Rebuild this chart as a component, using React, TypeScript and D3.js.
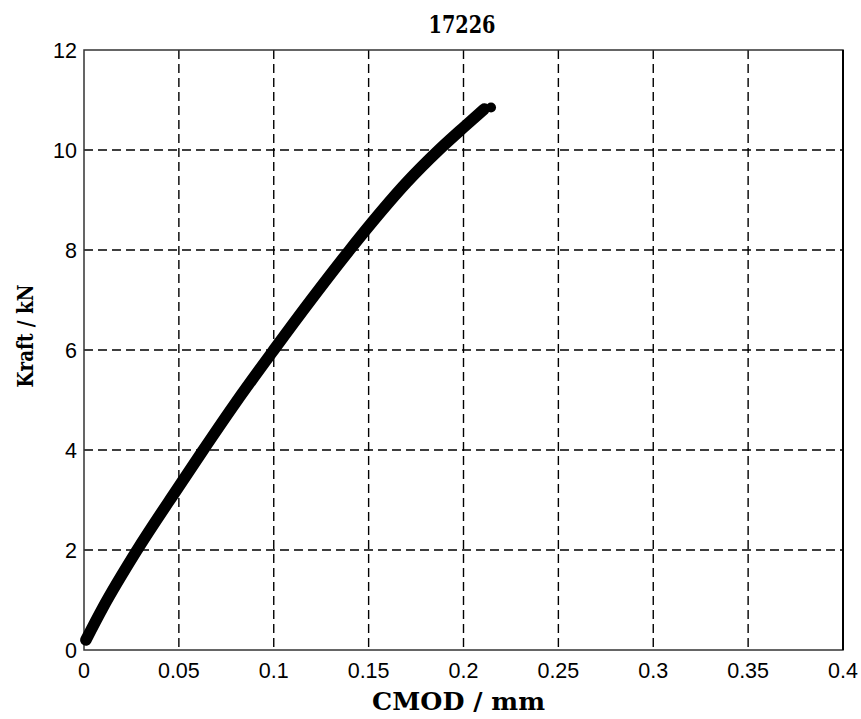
import React from "react";
import * as d3 from "d3";

const cmodValues = [0.001, 0.01, 0.028, 0.05, 0.0625, 0.08, 0.1, 0.12, 0.14, 0.15, 0.17, 0.187, 0.2, 0.211];
const forceValues = [0.2, 0.85, 2.0, 3.27, 3.98, 4.95, 6.0, 7.02, 8.0, 8.47, 9.35, 10.0, 10.45, 10.82];
const endPoint = [0.2145, 10.85];
const xTicks = [0, 0.05, 0.1, 0.15, 0.2, 0.25, 0.3, 0.35, 0.4];
const xTickLabels = ["0", "0.05", "0.1", "0.15", "0.2", "0.25", "0.3", "0.35", "0.4"];
const yTicks = [0, 2, 4, 6, 8, 10, 12];
const yTickLabels = ["0", "2", "4", "6", "8", "10", "12"];
const title = "17226";
const xLabel = "CMOD / mm";
const yLabel = "Kraft / kN";

export default function App() {
  const W = 861, H = 719;
  const left = 84, right = 843, top = 50, bottom = 650;
  const x = d3.scaleLinear().domain([0, 0.4]).range([left, right]);
  const y = d3.scaleLinear().domain([0, 12]).range([bottom, top]);
  const pts: [number, number][] = cmodValues.map((c, i) => [c, forceValues[i]]);
  const line = d3.line<[number, number]>().x(d => x(d[0])).y(d => y(d[1])).curve(d3.curveMonotoneX);
  const tickFont = "'Liberation Sans', Arial, sans-serif";
  const serif = "'DejaVu Serif', serif";
  return (
    <svg width={W} height={H} style={{ position: "absolute", left: 0, top: 0, background: "#fff" }}>
      <rect x={0} y={0} width={W} height={H} fill="#fff" />
      {xTicks.slice(1, -1).map((t, i) => (
        <line key={"gx" + i} x1={x(t)} x2={x(t)} y1={top} y2={bottom} stroke="#000" strokeWidth={1.4} strokeDasharray="9,5" />
      ))}
      {yTicks.slice(1, -1).map((t, i) => (
        <line key={"gy" + i} x1={left} x2={right} y1={y(t)} y2={y(t)} stroke="#000" strokeWidth={1.4} strokeDasharray="9,5" />
      ))}
      <rect x={left} y={top} width={right - left} height={bottom - top} fill="none" stroke="#333" strokeWidth={1.5} />
      <line x1={right} x2={right} y1={top} y2={bottom} stroke="#000" strokeWidth={2} />
      {xTicks.map((t, i) => (
        <text key={"xt" + i} x={x(t)} y={678} textAnchor="middle" fontFamily={tickFont} fontSize={21.5} fill="#000">{xTickLabels[i]}</text>
      ))}
      {yTicks.map((t, i) => (
        <text key={"yt" + i} x={77} y={y(t) + 7.5} textAnchor="end" fontFamily={tickFont} fontSize={21.5} fill="#000">{yTickLabels[i]}</text>
      ))}
      <path d={line(pts) || ""} fill="none" stroke="#000" strokeWidth={11.5} strokeLinecap="round" strokeLinejoin="round" />
      <circle cx={x(endPoint[0])} cy={y(endPoint[1])} r={5} fill="#000" />
      <text x={462} y={33} textAnchor="middle" fontFamily={serif} fontWeight="bold" fontSize={24} textLength={67} lengthAdjust="spacingAndGlyphs">{title}</text>
      <text x={458.5} y={710} textAnchor="middle" fontFamily={serif} fontWeight="bold" fontSize={24} textLength={173} lengthAdjust="spacingAndGlyphs">{xLabel}</text>
      <text transform={`translate(33,336) rotate(-90)`} textAnchor="middle" fontFamily={serif} fontWeight="bold" fontSize={22} textLength={103} lengthAdjust="spacingAndGlyphs">{yLabel}</text>
    </svg>
  );
}
